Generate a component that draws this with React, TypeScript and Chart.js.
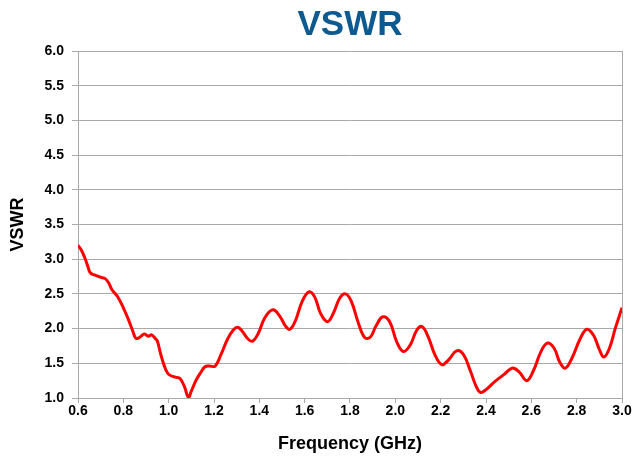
import React, { useEffect, useRef } from "react";
import { Chart, registerables } from "chart.js";

Chart.register(...registerables);

const frequency = [
  0.6, 0.615, 0.63, 0.645, 0.655, 0.675, 0.7, 0.72, 0.735, 0.75, 0.775, 0.8, 0.82, 0.84, 0.855, 0.87,
  0.885, 0.895, 0.91, 0.925, 0.94, 0.95, 0.965, 0.98, 0.995, 1.01, 1.03, 1.05, 1.07, 1.087, 1.1,
  1.12, 1.14, 1.16, 1.18, 1.205, 1.23, 1.26, 1.285, 1.305, 1.325, 1.35, 1.37, 1.395, 1.425, 1.46,
  1.49, 1.515, 1.535, 1.56, 1.59, 1.62, 1.645, 1.67, 1.7, 1.725, 1.755, 1.78, 1.805, 1.835, 1.865,
  1.89, 1.915, 1.945, 1.975, 2.005, 2.035, 2.065, 2.095, 2.118, 2.145, 2.175, 2.205, 2.235, 2.27,
  2.3, 2.33, 2.355, 2.375, 2.4, 2.44, 2.48, 2.515, 2.545, 2.58, 2.61, 2.64, 2.67, 2.7, 2.725, 2.75,
  2.78, 2.815, 2.845, 2.875, 2.9, 2.92, 2.945, 2.97, 3.0,
];

const vswr = [
  3.2, 3.13, 3.02, 2.88, 2.8, 2.77, 2.74, 2.72, 2.66, 2.56, 2.46, 2.3, 2.15, 1.98, 1.86, 1.87,
  1.91, 1.92, 1.89, 1.91, 1.86, 1.82, 1.63, 1.47, 1.36, 1.32, 1.3, 1.28, 1.16, 1.01, 1.1,
  1.25, 1.36, 1.45, 1.46, 1.46, 1.62, 1.85, 1.98, 2.02, 1.96, 1.85, 1.82, 1.93, 2.16, 2.27,
  2.18, 2.04, 1.99, 2.12, 2.4, 2.53, 2.45, 2.22, 2.1, 2.21, 2.44, 2.5, 2.4, 2.1, 1.87,
  1.88, 2.04, 2.17, 2.1, 1.82, 1.67, 1.76, 1.98, 2.03, 1.88, 1.62, 1.48, 1.55, 1.68,
  1.63, 1.4, 1.18, 1.08, 1.12, 1.24, 1.34, 1.43, 1.38, 1.25, 1.4, 1.65, 1.79, 1.72, 1.52, 1.43,
  1.58, 1.85, 1.99, 1.9, 1.7, 1.59, 1.72, 2.0, 2.3,
];

const titleText = "VSWR";
const xTitle = "Frequency (GHz)";
const yTitle = "VSWR";

const GRID = "#a9a9a9";

const borderPlugin = {
  id: "rightBorder",
  beforeDatasetsDraw(chart: any) {
    const { ctx, chartArea } = chart;
    ctx.save();
    ctx.strokeStyle = GRID;
    ctx.lineWidth = 1;
    ctx.beginPath();
    ctx.moveTo(Math.round(chartArea.right) + 0.5, chartArea.top);
    ctx.lineTo(Math.round(chartArea.right) + 0.5, chartArea.bottom);
    ctx.stroke();
    ctx.restore();
  },
};

export default function App() {
  const ref = useRef<HTMLCanvasElement | null>(null);

  useEffect(() => {
    if (!ref.current) return;
    const chart = new Chart(ref.current, {
      type: "line",
      data: {
        datasets: [
          {
            data: frequency.map((f, i) => ({ x: f, y: vswr[i] })),
            borderColor: "#ff0000",
            borderWidth: 3,
            pointRadius: 0,
            tension: 0.4,
            fill: false,
          },
        ],
      },
      options: {
        animation: false,
        responsive: true,
        maintainAspectRatio: false,
        layout: { padding: { left: 0, right: 10, top: 0, bottom: 0 } },
        plugins: {
          legend: { display: false },
          tooltip: { enabled: false },
          title: {
            display: true,
            text: titleText,
            fullSize: false,
            color: "#0d5a91",
            font: { family: "Arial, 'Liberation Sans', sans-serif", size: 35, weight: "bold", lineHeight: 1 },
            padding: { top: 8, bottom: 8 },
          },
        },
        scales: {
          x: {
            type: "linear",
            min: 0.6,
            max: 3.0,
            ticks: {
              stepSize: 0.2,
              color: "#000",
              padding: 0,
              maxRotation: 0,
              font: { family: "Arial, 'Liberation Sans', sans-serif", size: 14, weight: "bold" },
              callback: (v: any) => Number(v).toFixed(1),
            },
            grid: { drawOnChartArea: false, drawTicks: true, tickLength: 5, color: GRID },
            border: { color: GRID, width: 1 },
            title: {
              display: true,
              text: xTitle,
              color: "#000",
              font: { family: "Arial, 'Liberation Sans', sans-serif", size: 18, weight: "bold" },
              padding: { top: 0, bottom: 5 },
            },
            afterFit: (s: any) => {
              s.height = 62;
              s.paddingLeft = 0;
              s.paddingRight = 0;
            },
          },
          y: {
            min: 1,
            max: 6,
            ticks: {
              stepSize: 0.5,
              color: "#000",
              padding: 8,
              font: { family: "Arial, 'Liberation Sans', sans-serif", size: 14, weight: "bold" },
              callback: (v: any) => Number(v).toFixed(1),
            },
            grid: { color: GRID, tickLength: 6, lineWidth: 1 },
            border: { color: GRID, width: 1 },
            title: {
              display: true,
              text: yTitle,
              color: "#000",
              font: { family: "Arial, 'Liberation Sans', sans-serif", size: 18, weight: "bold" },
              padding: { top: 7, bottom: 0 },
            },
            afterFit: (s: any) => {
              s.width = 78;
              s.paddingTop = 0;
              s.paddingBottom = 0;
            },
          },
        },
      },
      plugins: [borderPlugin],
    });
    return () => chart.destroy();
  }, []);

  return (
    <div style={{ position: "absolute", left: 0, top: 0, width: 632, height: 460, background: "#fff" }}>
      <canvas ref={ref} />
    </div>
  );
}
